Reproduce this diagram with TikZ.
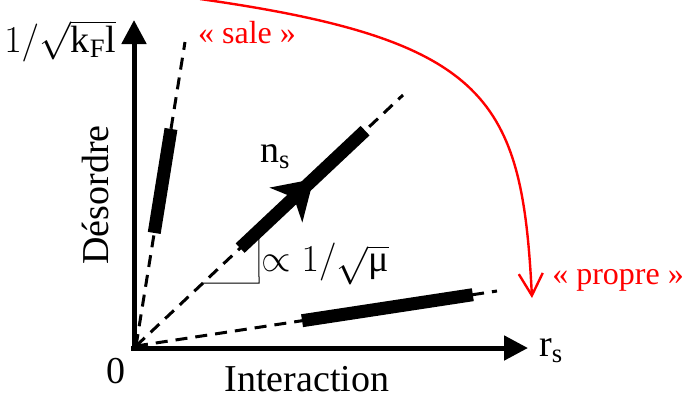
\RequirePackage{fix-cm}
\documentclass[tikz,border=0pt]{standalone}
\usepackage{fontspec}
\setmainfont{Liberation Serif}
\usetikzlibrary{arrows.meta,calc}
\definecolor{flowred}{HTML}{FF0000}

\begin{document}
\begin{tikzpicture}[
          x=1pt, y=-1pt,
          axis/.style={line width=5pt, -{Triangle[length=24pt,width=24pt]}},
          guide/.style={line width=3pt, dash pattern=on 12pt off 8pt},
          band/.style={line width=13pt},
          redarr/.style={flowred, line width=2.4pt,
                         -{Straight Barb[length=22pt,width=24pt,line width=2.4pt]}},
          big/.style={font=\fontsize{38}{40}\selectfont, inner sep=0pt},
          tag/.style={font=\fontsize{32}{34}\selectfont, inner sep=0pt, text=flowred}
        ]
        \useasboundingbox (0,0) rectangle (687,400);
        \coordinate (o) at (136,346);
        \coordinate (steep) at (185,42);
        \coordinate (diag) at (403,95);
        \coordinate (flat) at (497,291);
        \coordinate (ybot) at (134,351);
        \coordinate (ytop) at (134,20);
        \coordinate (xleft) at (131,348);
        \coordinate (xright) at (528,348);
        \coordinate (dirty) at (200,-1);
        \coordinate (clean) at (532,298);
        % slope triangle
        \draw[line width=1pt] ($(o)!0.251!(diag)$) -- ++(56,0) -- ($(o)!0.46!(diag)$);
        % dashed guides and thick bands
        \draw[guide] (o) -- (steep);
        \draw[guide] (o) -- (diag);
        \draw[guide] (o) -- (flat);
        \draw[band] ($(o)!0.372!(steep)$) -- ($(o)!0.714!(steep)$);
        \draw[band] ($(o)!0.39!(diag)$) -- ($(o)!0.858!(diag)$);
        \draw[band] ($(o)!0.46!(flat)$) -- ($(o)!0.933!(flat)$);
        % arrowhead on the middle band
        \coordinate (tip) at ($(o)!0.665!(diag)$);
        \coordinate (back) at ($(tip)!38pt!(o)$);
        \coordinate (notch) at ($(tip)!27pt!(o)$);
        \fill (tip) -- ($(back)!24pt!90:(tip)$) -- (notch)
              -- ($(back)!24pt!-90:(tip)$) -- cycle;
        % axes
        \draw[axis] (ybot) -- (ytop);
        \draw[axis] (xleft) -- (xright);
        % red path
        \draw[redarr] (dirty) .. controls (490,40) and (522,100) .. (clean);
        % labels
        \node[big] (kf) at (60,41) {$1/\sqrt{\mathrm{k_F l}}$};
        \node[big, rotate=90] (ylab) at (95,195) {Désordre};
        \node[big] (zero) at (116,371) {0};
        \node[big] (xlab) at (307,379) {Interaction};
        \node[big] (rs) at (551,351) {r$_\mathrm{s}$};
        \node[big] (ns) at (275,157) {n$_\mathrm{s}$};
        \node[big] (slope) at (325,264) {$\propto 1/\sqrt{\mbox{μ}}$};
        \node[tag] (sale) at (247,33) {« sale »};
        \node[tag] (propre) at (618,280) {« propre »};
      \end{tikzpicture}
\end{document}
